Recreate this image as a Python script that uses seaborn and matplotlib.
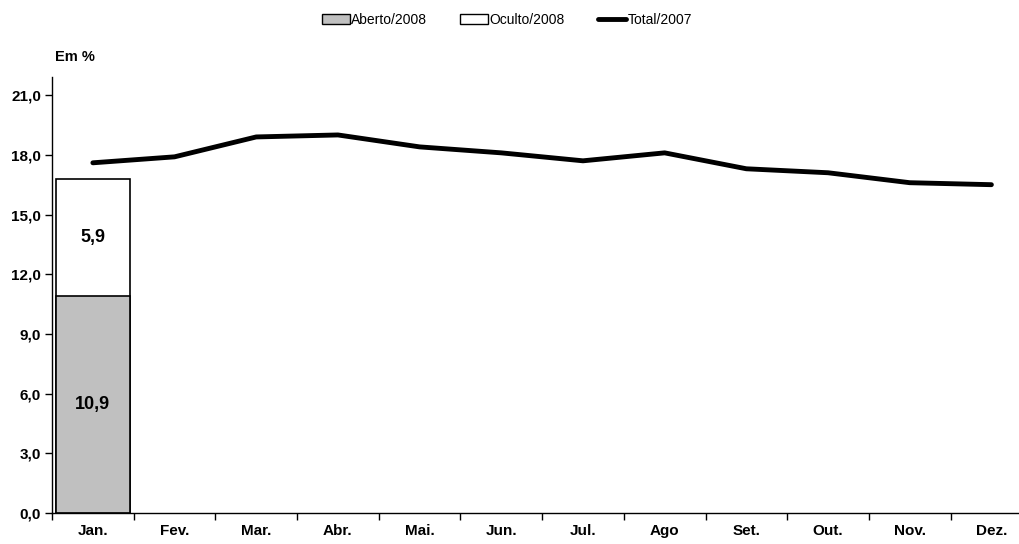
import matplotlib
matplotlib.use("Agg")
import matplotlib.pyplot as plt
import numpy as np
import pandas as pd
import seaborn as sns
from matplotlib.patches import Patch
from matplotlib.lines import Line2D
from matplotlib.ticker import FixedLocator, FuncFormatter

months = ["Jan.", "Fev.", "Mar.", "Abr.", "Mai.", "Jun.",
          "Jul.", "Ago", "Set.", "Out.", "Nov.", "Dez."]
aberto_2008 = [10.9] + [np.nan] * 11
oculto_2008 = [5.9] + [np.nan] * 11
total_2007 = [17.6, 17.9, 18.9, 19.0, 18.4, 18.1,
              17.7, 18.1, 17.3, 17.1, 16.6, 16.5]
y_ticks = [0, 3, 6, 9, 12, 15, 18, 21]

sns.set_style("white")
plt.rcParams["font.family"] = ["Liberation Sans", "DejaVu Sans"]
plt.rcParams["text.color"] = "black"
plt.rcParams["xtick.color"] = "black"
plt.rcParams["ytick.color"] = "black"

df = pd.DataFrame({"mes": months,
                   "aberto": aberto_2008,
                   "stack": np.array(aberto_2008) + np.array(oculto_2008),
                   "total": total_2007})

fig = plt.figure(figsize=(10.2, 5.44), dpi=100)
ax = fig.add_axes([0.051, 0.057, 0.961, 0.801])

# stacked bar: full height in white, then the lower part in grey on top
sns.barplot(data=df, x="mes", y="stack", order=months, color="white",
            edgecolor="black", linewidth=1.2, width=0.91, saturation=1, ax=ax)
sns.barplot(data=df, x="mes", y="aberto", order=months, color="#c0c0c0",
            edgecolor="black", linewidth=1.2, width=0.91, saturation=1, ax=ax)
sns.lineplot(x=np.arange(len(months)), y=df["total"], color="black",
             linewidth=3.5, ax=ax)

for i, (a, o) in enumerate(zip(aberto_2008, oculto_2008)):
    if np.isnan(a):
        continue
    ax.text(i, a / 2, f"{a:.1f}".replace(".", ","), ha="center", va="center",
            fontsize=13, fontweight="bold", color="black")
    ax.text(i, a + o / 2, f"{o:.1f}".replace(".", ","), ha="center",
            va="center", fontsize=13, fontweight="bold", color="black")

ax.set_xlim(-0.5, len(months) - 0.5)
ax.set_ylim(0, 21.9)
ax.set_yticks(y_ticks)
ax.yaxis.set_major_formatter(FuncFormatter(lambda v, p: f"{v:.1f}".replace(".", ",")))

# ticks on category boundaries, labels at the centres
ax.xaxis.set_major_locator(FixedLocator(np.arange(len(months) + 1) - 0.5))
ax.xaxis.set_minor_locator(FixedLocator(np.arange(len(months))))
ax.set_xticklabels([""] * (len(months) + 1))
ax.set_xticklabels(months, minor=True)
ax.tick_params(axis="x", which="major", direction="out", length=5,
               width=1, color="black", bottom=True)
ax.tick_params(axis="x", which="minor", length=0, pad=8)
ax.tick_params(axis="y", direction="out", length=5, width=1,
               color="black", left=True, pad=3)
for lbl in ax.get_xticklabels(minor=True) + ax.get_yticklabels():
    lbl.set_fontsize(11)
    lbl.set_fontweight("bold")
    lbl.set_color("black")

ax.set_xlabel("")
ax.set_ylabel("")
sns.despine(ax=ax, top=True, right=True)
ax.spines["left"].set_color("black")
ax.spines["bottom"].set_color("black")
ax.spines["left"].set_linewidth(1)
ax.spines["bottom"].set_linewidth(1)

fig.text(0.054, 0.888, "Em %", fontsize=10.5, fontweight="bold", color="black")

handles = [Patch(facecolor="#c0c0c0", edgecolor="black", label="Aberto/2008"),
           Patch(facecolor="white", edgecolor="black", label="Oculto/2008"),
           Line2D([0], [0], color="black", linewidth=3.5, label="Total/2007")]
leg = fig.legend(handles=handles, loc="center", bbox_to_anchor=(0.497, 0.963), ncol=3,
                 frameon=False, handlelength=2.0, handleheight=0.7,
                 handletextpad=0.1, columnspacing=2.4,
                 prop={"family": ["Liberation Sans Narrow", "Liberation Sans"], "size": 10})
for t in leg.get_texts():
    t.set_color("black")

fig.savefig("out.png", dpi=100)
